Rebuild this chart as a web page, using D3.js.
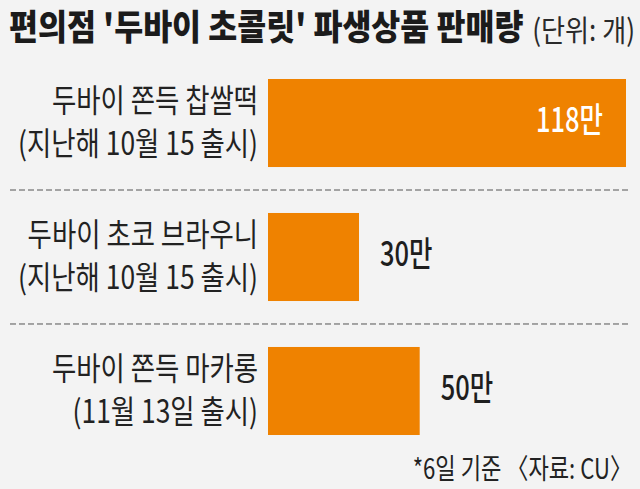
<!DOCTYPE html>
<html>
<head>
<meta charset="utf-8">
<script src="https://cdn.jsdelivr.net/npm/d3@7"></script>
<style>
  html, body { margin: 0; padding: 0; background: #f3f3f3; }
  svg { display: block; }
  text { font-family: "Noto Sans CJK KR", "Noto Sans", sans-serif; }
</style>
</head>
<body>
<svg id="chart" width="640" height="489"></svg>
<script>
// ---- data ----
const titleText = "편의점 '두바이 초콜릿' 파생상품 판매량";
const unitText = "(단위: 개)";
const categories = ["찹쌀떡", "브라우니", "마카롱"];
const labelLine1 = ["두바이 쫀득 찹쌀떡", "두바이 초코 브라우니", "두바이 쫀득 마카롱"];
const labelLine2 = ["(지난해 10월 15 출시)", "(지난해 10월 15 출시)", "(11월 13일 출시)"];
const values = [118, 30, 50];           // 만 개
const valueLabels = ["118만", "30만", "50만"];
const footnote = "*6일 기준 〈자료: CU〉";

// ---- layout ----
const W = 640, H = 489;
const barX0 = 268, barXMax = 626;
const svg = d3.select("#chart");
svg.append("rect").attr("width", W).attr("height", H).attr("fill", "#f3f3f3");

const x = d3.scaleLinear().domain([0, d3.max(values)]).range([0, barXMax - barX0]);
const y = d3.scaleBand().domain(categories).range([56, 458])
  .paddingInner(0.343).paddingOuter(0.1716);

// title
svg.append("text").attr("transform", "translate(9,40) scale(0.9,1)")
  .attr("font-size", 35).attr("font-weight", 900).attr("fill", "#1b1b1b")
  .text(titleText);
svg.append("text").attr("transform", "translate(635,41) scale(0.87,1)")
  .attr("text-anchor", "end")
  .attr("font-size", 30).attr("font-weight", 400).attr("fill", "#2a2a2a")
  .text(unitText);

// dashed separators
const seps = categories.slice(0, -1).map((c, i) =>
  (y(c) + y.bandwidth() + y(categories[i + 1])) / 2);
svg.selectAll("line.sep").data(seps).enter().append("line")
  .attr("class", "sep")
  .attr("x1", 10).attr("x2", 630)
  .attr("y1", d => d).attr("y2", d => d)
  .attr("stroke", "#555").attr("stroke-width", 1)
  .attr("stroke-dasharray", "6,3");

// bars
svg.selectAll("rect.bar").data(categories).enter().append("rect")
  .attr("class", "bar")
  .attr("x", barX0)
  .attr("y", d => y(d))
  .attr("width", (d, i) => x(values[i]))
  .attr("height", y.bandwidth())
  .attr("fill", "#ef8200");

// category labels (two lines)
const lblSX = 0.825;
categories.forEach((c, i) => {
  const cy = y(c) + y.bandwidth() / 2;
  svg.append("text")
    .attr("transform", `translate(258,${cy - 11}) scale(${lblSX},1)`)
    .attr("text-anchor", "end").attr("font-size", 32).attr("fill", "#222")
    .text(labelLine1[i]);
  svg.append("text")
    .attr("transform", `translate(258,${cy + 32}) scale(${lblSX},1)`)
    .attr("text-anchor", "end").attr("font-size", 32).attr("fill", "#222")
    .text(labelLine2[i]);
});

// value labels
categories.forEach((c, i) => {
  const cy = y(c) + y.bandwidth() / 2 + 9;
  const inside = i === 0;
  const bx = barX0 + x(values[i]);
  svg.append("text")
    .attr("transform", inside
      ? `translate(${bx - 23},${cy}) scale(0.75,1)`
      : `translate(${bx + 21},${cy}) scale(0.75,1)`)
    .attr("text-anchor", inside ? "end" : "start")
    .attr("font-size", 34).attr("font-weight", 500)
    .attr("fill", inside ? "#ffffff" : "#1e1e1e")
    .text(valueLabels[i]);
});

// footnote
svg.append("text").attr("transform", "translate(632,479) scale(0.79,1)")
  .attr("text-anchor", "end").attr("font-size", 28).attr("fill", "#222")
  .text(footnote);
</script>
</body>
</html>
